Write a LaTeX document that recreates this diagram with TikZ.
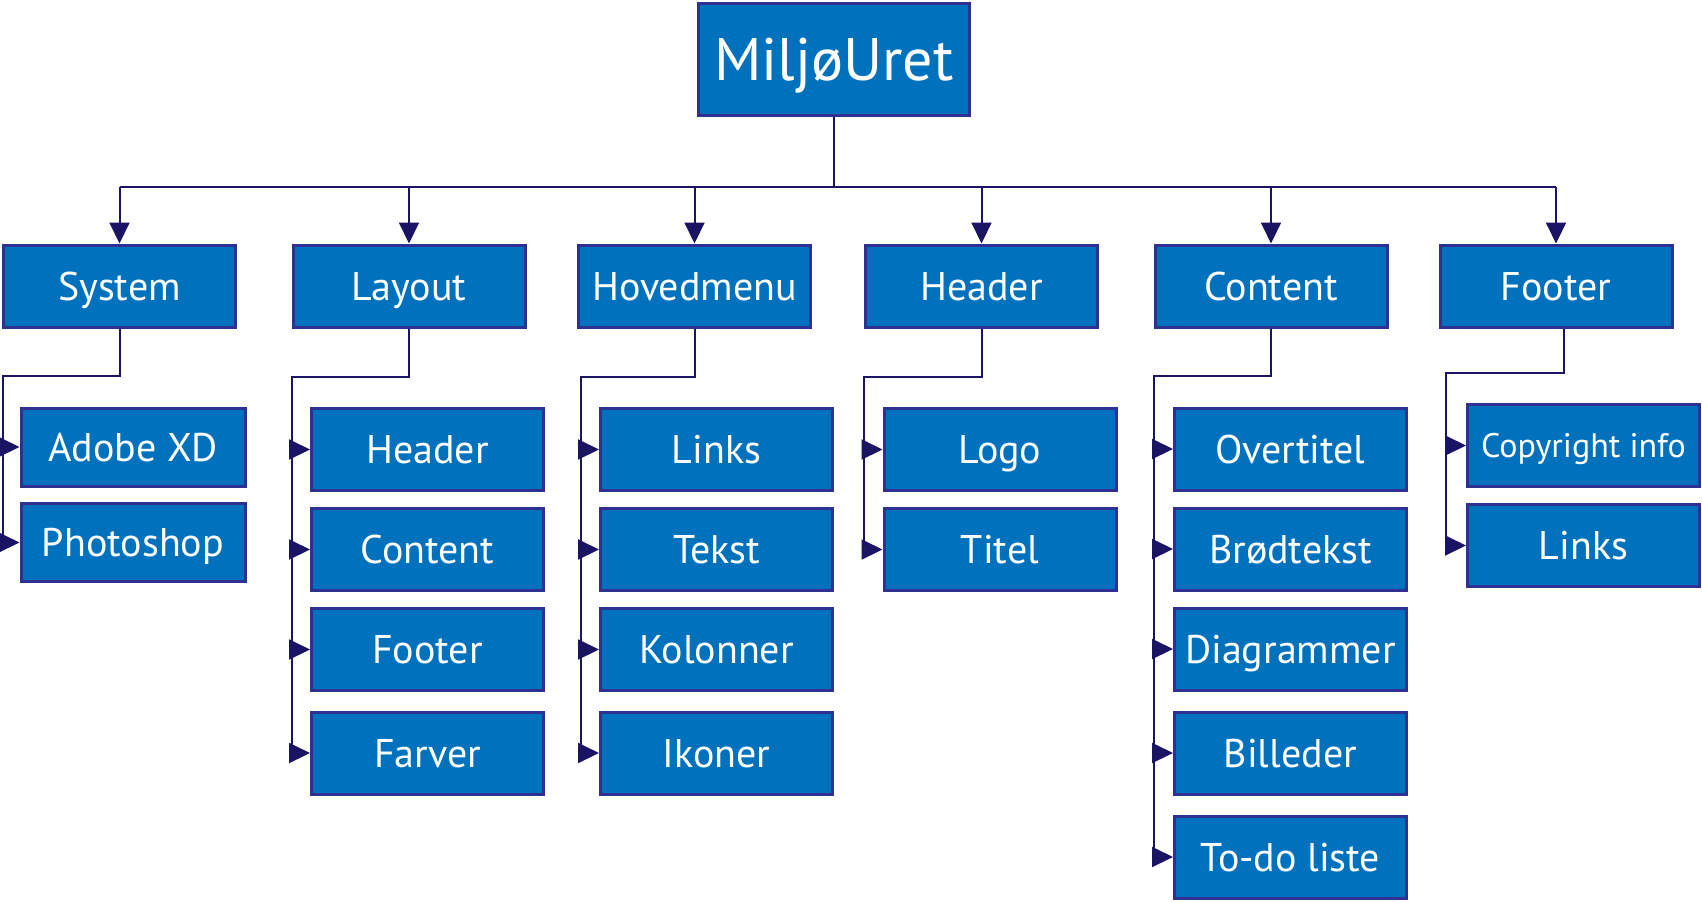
\documentclass[tikz,border=0pt]{standalone}
\usepackage{fontspec}
\setmainfont{PT Sans}
\usetikzlibrary{arrows.meta}
\definecolor{boxblue}{RGB}{0,113,188}
\definecolor{boxedge}{RGB}{46,49,146}
\definecolor{linkblue}{RGB}{27,20,100}

\begin{document}
\begin{tikzpicture}[
	x=0.5pt, y=-0.5pt,
	box/.style={ rectangle, draw=boxedge, line width=1.5pt, fill=boxblue, text=white, inner sep=0pt, minimum width=116pt, minimum height=41pt, font=\fontsize{20}{24}\selectfont, text height=14pt, text depth=0pt },
	rootbox/.style={ box, minimum width=135.5pt, minimum height=56pt, font=\fontsize{30}{36}\selectfont, text height=21pt },
	smallbox/.style={ box, minimum width=112pt, minimum height=39pt },
	link/.style={ linkblue, line width=1pt },
	arrow/.style={ link, -{Triangle[length=10.5pt,width=10pt]} }
]
\useasboundingbox (0,0) rectangle (1702,901);

\node at (834,59.5) (root) [rootbox] {MiljøUret};

\node at (119.5,286) (system) [box] {System};
\node at (409,286) (layout) [box] {Layout};
\node at (694.5,286) (hovedmenu) [box] {Hovedmenu};
\node at (981.5,286) (header) [box] {Header};
\node at (1271,286) (content) [box] {Content};
\node at (1556,286) (footer) [box] {Footer};

\coordinate (bus) at (834,187);
\draw[link] (root.south) to (bus);
\draw[link] (system.north |- bus) to (footer.north |- bus);
\draw[arrow] (system.north |- bus) to (system.north);
\draw[arrow] (layout.north |- bus) to (layout.north);
\draw[arrow] (hovedmenu.north |- bus) to (hovedmenu.north);
\draw[arrow] (header.north |- bus) to (header.north);
\draw[arrow] (content.north |- bus) to (content.north);
\draw[arrow] (footer.north |- bus) to (footer.north);

% system
\node at (133,447) (adobexd) [smallbox] {Adobe XD};
\node at (133,542.5) (photoshop) [smallbox] {Photoshop};
\coordinate (systembend) at (3,376);
\draw[link] (system.south) |- (systembend) to (systembend |- photoshop.west);
\draw[arrow] (systembend |- adobexd.west) to (adobexd.west);
\draw[arrow] (systembend |- photoshop.west) to (photoshop.west);

% layout
\node at (427.5,449.5) (layoutheader) [box] {Header};
\node at (427.5,549.5) (layoutcontent) [box] {Content};
\node at (427.5,649.5) (layoutfooter) [box] {Footer};
\node at (427.5,753) (farver) [box] {Farver};
\coordinate (layoutbend) at (292,377);
\draw[link] (layout.south) |- (layoutbend) to (layoutbend |- farver.west);
\draw[arrow] (layoutbend |- layoutheader.west) to (layoutheader.west);
\draw[arrow] (layoutbend |- layoutcontent.west) to (layoutcontent.west);
\draw[arrow] (layoutbend |- layoutfooter.west) to (layoutfooter.west);
\draw[arrow] (layoutbend |- farver.west) to (farver.west);

% hovedmenu
\node at (716.5,449.5) (links) [box] {Links};
\node at (716.5,549.5) (tekst) [box] {Tekst};
\node at (716.5,649.5) (kolonner) [box] {Kolonner};
\node at (716.5,753) (ikoner) [box] {Ikoner};
\coordinate (menubend) at (581,377);
\draw[link] (hovedmenu.south) |- (menubend) to (menubend |- ikoner.west);
\draw[arrow] (menubend |- links.west) to (links.west);
\draw[arrow] (menubend |- tekst.west) to (tekst.west);
\draw[arrow] (menubend |- kolonner.west) to (kolonner.west);
\draw[arrow] (menubend |- ikoner.west) to (ikoner.west);

% header
\node at (1000,449.5) (logo) [box] {Logo};
\node at (1000,549.5) (titel) [box] {Titel};
\coordinate (headerbend) at (864,377);
\draw[link] (header.south) |- (headerbend) to (headerbend |- titel.west);
\draw[arrow] (headerbend |- logo.west) to (logo.west);
\draw[arrow] (headerbend |- titel.west) to (titel.west);

% content
\node at (1290.5,449) (overtitel) [box] {Overtitel};
\node at (1290.5,549) (broedtekst) [box] {Brødtekst};
\node at (1290.5,649) (diagrammer) [box] {Diagrammer};
\node at (1290.5,753) (billeder) [box] {Billeder};
\node at (1290.5,857) (todo) [box] {To-do liste};
\coordinate (contentbend) at (1154,376);
\draw[link] (content.south) |- (contentbend) to (contentbend |- todo.west);
\draw[arrow] (contentbend |- overtitel.west) to (overtitel.west);
\draw[arrow] (contentbend |- broedtekst.west) to (broedtekst.west);
\draw[arrow] (contentbend |- diagrammer.west) to (diagrammer.west);
\draw[arrow] (contentbend |- billeder.west) to (billeder.west);
\draw[arrow] (contentbend |- todo.west) to (todo.west);

% footer
\node at (1583.5,445.5) (copyright) [box,font=\fontsize{17}{20}\selectfont,text height=12pt] {Copyright info};
\node at (1583.5,545.5) (footerlinks) [box] {Links};
\coordinate (footerbend) at (1446,373);
\draw[link] ([xshift=4pt]footer.south) |- (footerbend) to (footerbend |- footerlinks.west);
\draw[arrow] (footerbend |- copyright.west) to (copyright.west);
\draw[arrow] (footerbend |- footerlinks.west) to (footerlinks.west);

\end{tikzpicture}
\end{document}
